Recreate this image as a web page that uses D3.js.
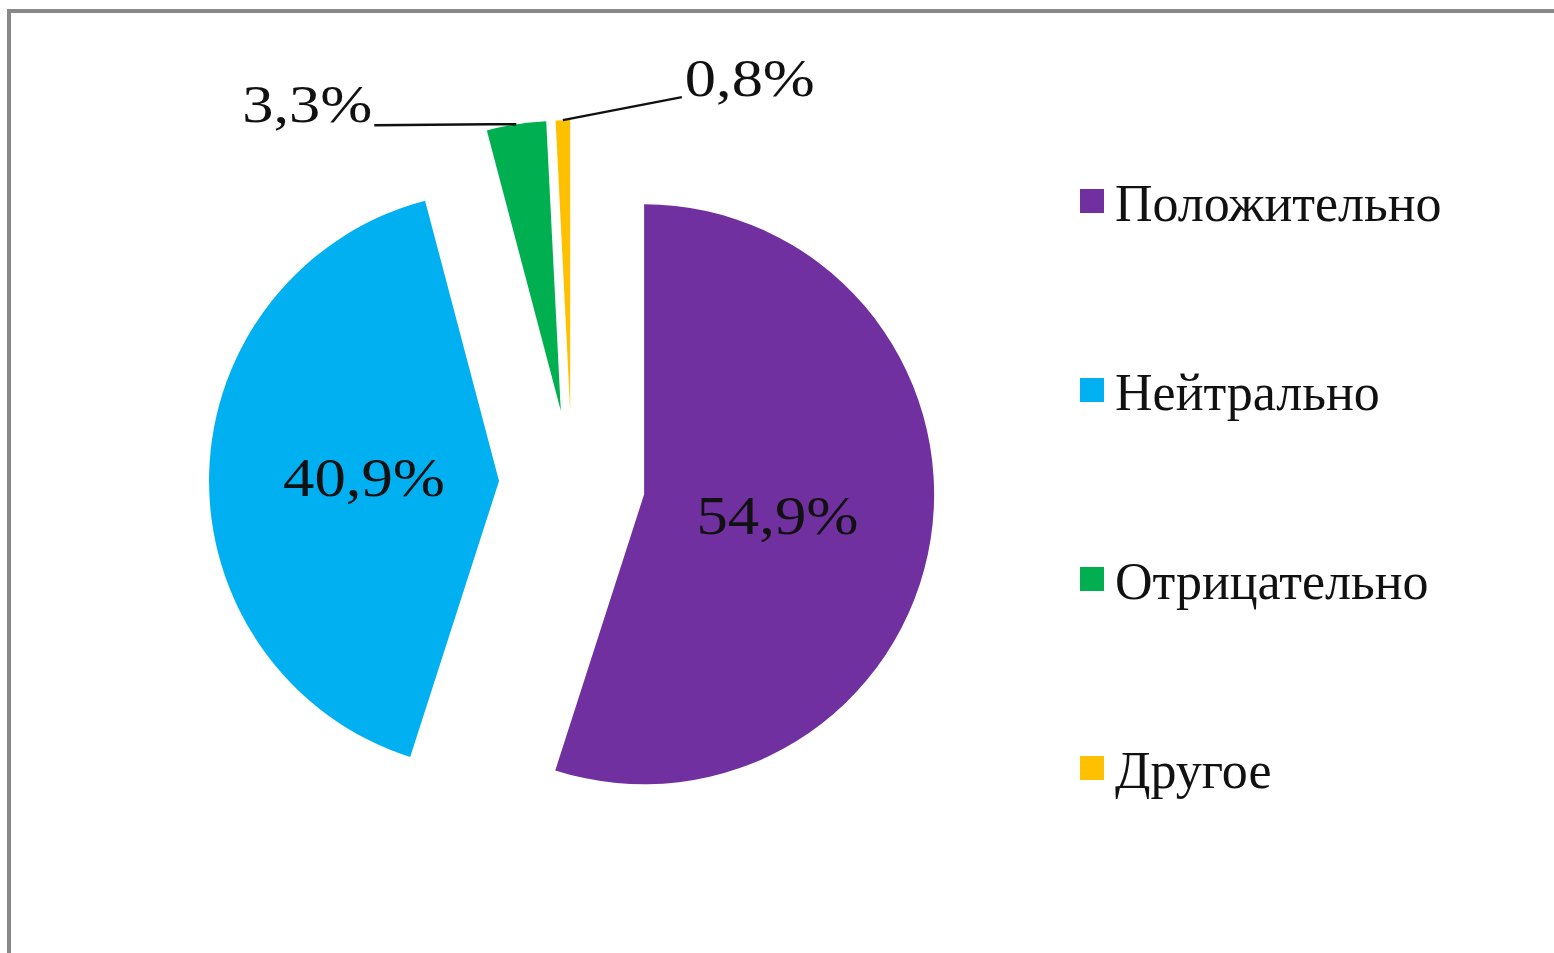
<!DOCTYPE html>
<meta charset="utf-8">
<style>

body {
  margin: 0;
  background: #fff;
}

text {
  font-family: "Liberation Serif", "Times New Roman", serif;
  fill: #111;
}

</style>
<body>
<script src="https://cdn.jsdelivr.net/npm/d3@7/dist/d3.min.js"></script>
<script>

var categories = ["Положительно", "Нейтрально", "Отрицательно", "Другое"];
var values = [54.9, 40.9, 3.3, 0.8];
var labels = ["54,9%", "40,9%", "3,3%", "0,8%"];
var colors = ["#7030A0", "#00B0F0", "#00B050", "#FFC000"];

var width = 1554,
    height = 953,
    cx = 572,
    cy = 483,
    radius = 290,
    explode = 73;

var svg = d3.select("body").append("svg")
    .attr("width", width)
    .attr("height", height);

// frame, runs off the right and bottom edges
svg.append("rect")
    .attr("x", 9)
    .attr("y", 11)
    .attr("width", width)
    .attr("height", height)
    .attr("fill", "none")
    .attr("stroke", "#888")
    .attr("stroke-width", 4);

var pie = d3.pie().sort(null).value(function(d) { return d; });
var arcs = pie(values);

var arc = d3.arc().innerRadius(0).outerRadius(radius);

var g = svg.append("g")
    .attr("transform", "translate(" + cx + "," + cy + ")");

function mid(d) { return (d.startAngle + d.endAngle) / 2; }
function offset(d, r) {
  var a = mid(d);
  return [Math.sin(a) * r, -Math.cos(a) * r];
}

var slice = g.selectAll("g.slice")
    .data(arcs)
  .enter().append("g")
    .attr("class", "slice")
    .attr("transform", function(d) {
      var o = offset(d, explode);
      return "translate(" + o[0] + "," + o[1] + ")";
    });

slice.append("path")
    .attr("d", arc)
    .attr("fill", function(d, i) { return colors[i]; });

// labels inside the big slices
slice.filter(function(d, i) { return i < 2; })
  .append("text")
    .attr("transform", function(d) {
      var o = offset(d, 135);
      return "translate(" + o[0] + "," + (o[1] + 19) + ") scale(1.12,1)";
    })
    .attr("text-anchor", "middle")
    .style("font-size", "56px")
    .text(function(d, i) { return labels[i]; });

// outside labels with leader lines
var outside = [
  {i: 2, kink: [-27, 0], end: [-142, 1], anchor: "end", tdx: -2, tdy: -3},
  {i: 3, kink: null, end: [119, -23], anchor: "start", tdx: 3, tdy: -1}
];

outside.forEach(function(o) {
  var d = arcs[o.i];
  var p = offset(d, radius);
  var sg = slice.filter(function(s, j) { return j === o.i; });
  var pts = [p];
  if (o.kink) pts.push([p[0] + o.kink[0], p[1] + o.kink[1]]);
  pts.push([p[0] + o.end[0], p[1] + o.end[1]]);
  sg.append("path")
      .attr("d", d3.line()(pts))
      .attr("fill", "none")
      .attr("stroke", "#111")
      .attr("stroke-width", 2.5);
  sg.append("text")
      .attr("transform", "translate(" + (p[0] + o.end[0] + o.tdx) + "," + (p[1] + o.end[1] + o.tdy) + ") scale(1.2,1)")
      .attr("text-anchor", o.anchor)
      .style("font-size", "52px")
      .text(labels[o.i]);
});

// legend
var legendY = d3.scalePoint()
    .domain(categories)
    .range([201, 768]);

var legend = svg.selectAll("g.legend")
    .data(categories)
  .enter().append("g")
    .attr("class", "legend")
    .attr("transform", function(d) { return "translate(1080," + legendY(d) + ")"; });

legend.append("rect")
    .attr("x", 0)
    .attr("y", -12)
    .attr("width", 24)
    .attr("height", 24)
    .attr("fill", function(d, i) { return colors[i]; });

legend.append("text")
    .attr("x", 35)
    .attr("y", 20)
    .style("font-size", "52px")
    .text(function(d) { return d; });

</script>
